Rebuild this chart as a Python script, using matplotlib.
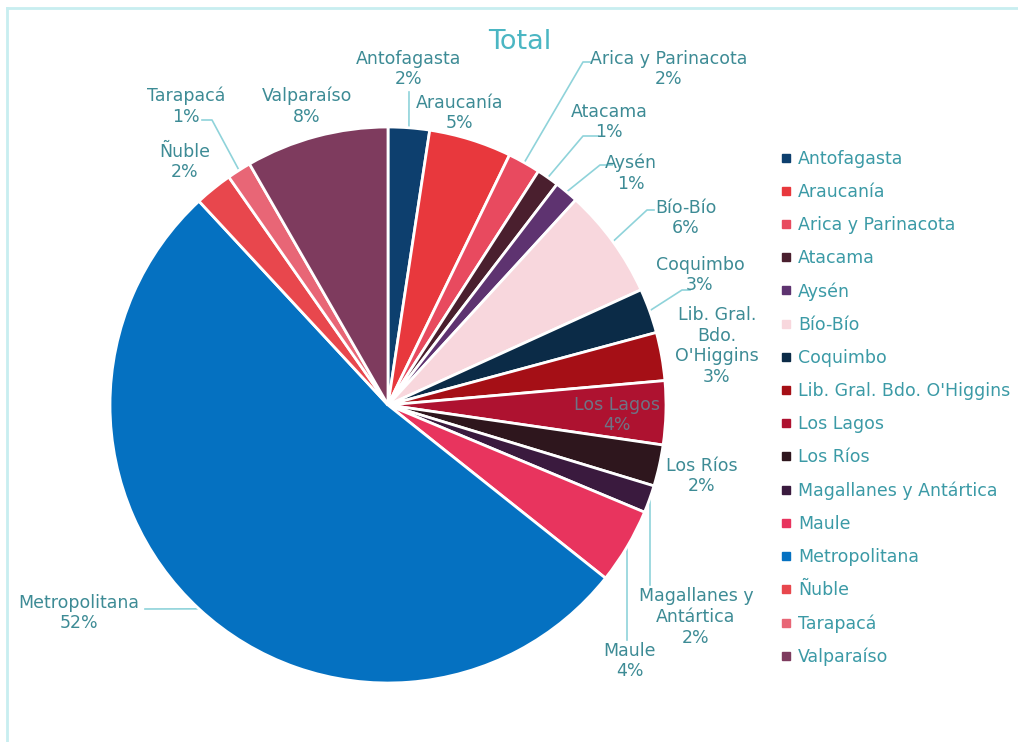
import numpy as np
import matplotlib.pyplot as plt
from matplotlib.lines import Line2D

# datos por región (porcentaje del total)
regiones = ['Antofagasta', 'Araucanía', 'Arica y Parinacota', 'Atacama', 'Aysén',
            'Bío-Bío', 'Coquimbo', "Lib. Gral. Bdo. O'Higgins", 'Los Lagos', 'Los Ríos',
            'Magallanes y Antártica', 'Maule', 'Metropolitana', 'Ñuble', 'Tarapacá',
            'Valparaíso']
valores = [2.4, 4.8, 1.9, 1.3, 1.4, 6.4, 2.6, 2.8, 3.7, 2.4, 1.6, 4.4, 52.4, 2.2, 1.4, 8.3]
etiquetas = ['Antofagasta', 'Araucanía', 'Arica y Parinacota', 'Atacama', 'Aysén',
             'Bío-Bío', 'Coquimbo', "Lib. Gral.\nBdo.\nO'Higgins", 'Los Lagos', 'Los Ríos',
             'Magallanes y\nAntártica', 'Maule', 'Metropolitana', 'Ñuble', 'Tarapacá',
             'Valparaíso']

colores = ['#0d3f6e', '#e8383d', '#e84a5f', '#4a1f2e', '#5e3370', '#f8d7dd',
           '#0b2b47', '#a50f16', '#ae1230', '#2e161d', '#3a1a3e', '#e8345e',
           '#0571c1', '#e8474d', '#e86676', '#7e3b5e']

# posiciones de etiquetas en pixeles (x, y desde arriba) y codo de la linea guia
pos_etiqueta = [(409, 69), (460, 113), (669, 69), (609, 122), (631, 173), (686, 218),
                (700, 275), (717, 346), (617, 415), (702, 476), (696, 617), (630, 661),
                (79, 613), (185, 162), (186, 106), (307, 106)]
codo = [(409, 92), None, [(590, 62), (583, 62)], [(598, 136), (583, 136)],
        [(612, 165), (600, 165)], [(654, 210), (647, 210)], [(690, 290), (682, 290)],
        None, None, None, 'v585', 'v640', [(145, 609)], None,
        [(202, 120), (212, 120)], None]

W, H = 1018, 742
cx, cy, R = 388, 405, 278
color_texto = '#3d8b95'
color_linea = '#8fd3da'

fig = plt.figure(figsize=(W / 100, H / 100), dpi=100)
ax = fig.add_axes([0, 0, 1, 1])

wedges, _ = ax.pie(valores, colors=colores, startangle=90, counterclock=False,
                   center=(cx, H - cy), radius=R,
                   wedgeprops=dict(edgecolor='white', linewidth=2))
ax.set_xlim(0, W)
ax.set_ylim(0, H)
ax.set_aspect('equal')
ax.axis('off')

total = sum(valores)
acum = np.cumsum(valores) - np.array(valores) / 2
for i, v in enumerate(valores):
    ang = np.deg2rad(acum[i] / total * 360)
    px = cx + R * np.sin(ang)
    py = cy - R * np.cos(ang)
    tx, ty = pos_etiqueta[i]
    col = '#6e7486' if regiones[i] == 'Los Lagos' else color_texto
    ax.text(tx, H - ty, f'{etiquetas[i]}\n{round(v / total * 100):.0f}%',
            ha='center', va='center', fontsize=12.5, color=col, linespacing=1.2)
    c = codo[i]
    if c is None:
        continue
    if isinstance(c, str):
        pts = [(px, py), (px, float(c[1:]))]
    elif isinstance(c, tuple):
        pts = [c, (px, py)]
    else:
        pts = list(c) + [(px, py)]
    xs = [p[0] for p in pts]
    ys = [H - p[1] for p in pts]
    ax.plot(xs, ys, color=color_linea, lw=1.2, zorder=0.5)

ax.text(520, H - 42, 'Total', ha='center', va='center', fontsize=19.5, color='#4bb6c3')

# leyenda
handles = [Line2D([], [], marker='s', linestyle='', markersize=5.5,
                  markerfacecolor=c, markeredgecolor=c) for c in colores]
leg = ax.legend(handles, regiones, loc='upper left', bbox_to_anchor=(765 / W, 1 - 134 / H),
                bbox_transform=fig.transFigure, frameon=False, fontsize=12.5,
                labelspacing=0.87, handlelength=0.6, handletextpad=0.4)
for t in leg.get_texts():
    t.set_color('#3b9aa6')

# marco del grafico
fig.add_artist(Line2D([7 / W, 1], [1 - 8 / H, 1 - 8 / H], color='#c8eef0', lw=2))
fig.add_artist(Line2D([7 / W, 7 / W], [0, 1 - 8 / H], color='#c8eef0', lw=2))

fig.savefig('out.png', dpi=100, facecolor='white')
